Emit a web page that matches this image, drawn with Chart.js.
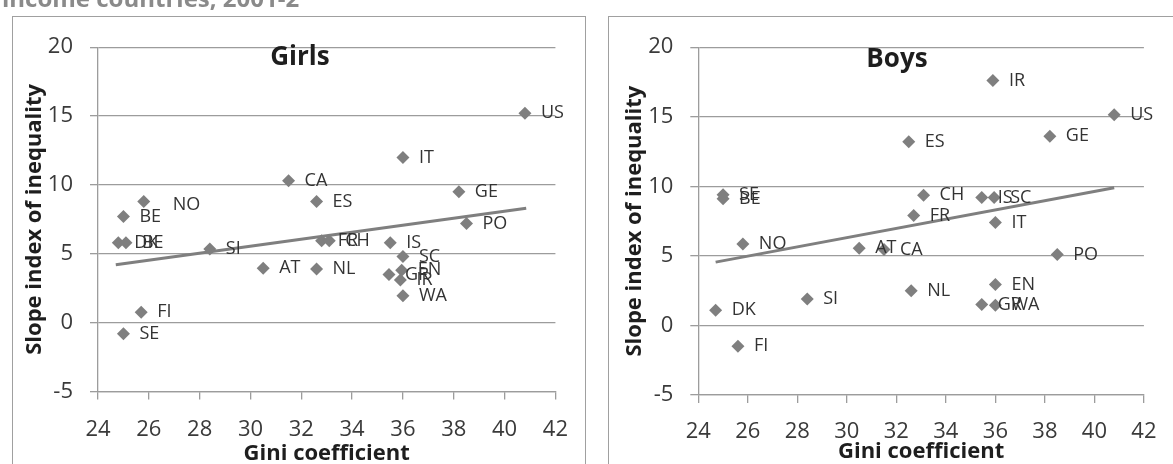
<!DOCTYPE html>
<html>
<head>
<meta charset="utf-8">
<script src="https://cdn.jsdelivr.net/npm/chart.js@4"></script>
<style>
  body { margin: 0; width: 1173px; height: 464px; overflow: hidden; background: #fff; position: relative; }
  #head { position: absolute; left: 0; top: 0; }
  .box { position: absolute; top: 16px; height: 460px; border: 1px solid #a0a0a0; background: #fff; }
  .box canvas { position: absolute; left: 0; top: 0; }
  #boxGirls { left: 12px; width: 572px; }
  #boxBoys { left: 608px; width: 580px; }
</style>
</head>
<body>
<canvas id="head" width="420" height="14"></canvas>
<div class="box" id="boxGirls"><canvas id="girls" width="572" height="450"></canvas></div>
<div class="box" id="boxBoys"><canvas id="boys" width="563" height="450"></canvas></div>
<script>
// Girls: country code, Gini coefficient, slope index of inequality
const girlsCodes = ['US', 'IT', 'CA', 'GE', 'ES', 'NO', 'BE', 'PO', 'FR', 'CH', 'IS', 'DK', 'BE', 'SI', 'SC', 'EN', 'GR', 'IR', 'AT', 'NL', 'WA', 'FI', 'SE'];
const girlsGini = [40.8, 36.0, 31.5, 38.2, 32.6, 25.8, 25.0, 38.5, 32.8, 33.1, 35.5, 24.8, 25.1, 28.4, 36.0, 35.95, 35.45, 35.9, 30.5, 32.6, 36.0, 25.7, 25.0];
const girlsSlope = [15.2, 12.0, 10.3, 9.5, 8.8, 8.8, 7.7, 7.2, 5.95, 5.95, 5.8, 5.8, 5.8, 5.35, 4.8, 3.8, 3.5, 3.1, 3.95, 3.9, 1.95, 0.75, -0.8];

// Boys
const boysCodes = ['IR', 'US', 'GE', 'ES', 'SE', 'BE', 'CH', 'IS', 'SC', 'FR', 'IT', 'NO', 'AT', 'CA', 'PO', 'EN', 'NL', 'GR', 'WA', 'DK', 'SI', 'FI'];
const boysGini = [35.9, 40.8, 38.2, 32.5, 25.0, 25.0, 33.1, 35.45, 35.95, 32.7, 36.0, 25.8, 30.5, 31.5, 38.5, 36.0, 32.6, 35.45, 36.0, 24.7, 28.4, 25.6];
const boysSlope = [17.6, 15.15, 13.6, 13.2, 9.4, 9.1, 9.35, 9.2, 9.2, 7.9, 7.4, 5.85, 5.55, 5.45, 5.1, 2.95, 2.5, 1.5, 1.45, 1.1, 1.9, -1.5];

// linear trend lines (end points)
const girlsTrendX = [24.7, 40.85];
const girlsTrendY = [4.2, 8.3];
const boysTrendX = [24.7, 40.8];
const boysTrendY = [4.55, 9.9];

const giniTicks = [24, 26, 28, 30, 32, 34, 36, 38, 40, 42];
const slopeTicks = [-5, 0, 5, 10, 15, 20];

const GREY = '#7f7f7f';
const GRID = '#9c9c9c';
const FONT = "'Open Sans', sans-serif";

// heading above the charts (only its lower part is on the page)
const hctx = document.getElementById('head').getContext('2d');
hctx.font = 'bold 24px ' + FONT;
hctx.fillStyle = '#8a8a8a';
hctx.textBaseline = 'alphabetic';
hctx.fillText('income countries, 2001-2', 2, 6.5);

// country codes next to each diamond
const pointLabels = {
  id: 'pointLabels',
  afterDatasetsDraw(chart, args, opts) {
    const meta = chart.getDatasetMeta(1);
    const ctx = chart.ctx;
    ctx.save();
    ctx.font = '18px ' + FONT;
    ctx.fillStyle = '#333333';
    ctx.textBaseline = 'middle';
    ctx.textAlign = 'left';
    meta.data.forEach((pt, i) => {
      const code = opts.codes[i];
      const n = (opts.nudge && opts.nudge[code + i]) || [0, 0];
      ctx.fillText(code, pt.x + 16 + n[0], pt.y + n[1]);
    });
    ctx.restore();
  }
};

// panel title drawn inside the plot
const panelTitle = {
  id: 'panelTitle',
  afterDraw(chart, args, opts) {
    const ctx = chart.ctx;
    ctx.save();
    ctx.font = 'bold 26px ' + FONT;
    ctx.fillStyle = '#1e1e1e';
    ctx.textAlign = 'center';
    ctx.textBaseline = 'alphabetic';
    ctx.fillText(opts.text, opts.x, opts.y);
    ctx.restore();
  }
};

function makeChart(id, codes, gini, slope, trendX, trendY, geo) {
  const points = gini.map((g, i) => ({ x: g, y: slope[i] }));
  const trend = trendX.map((x, i) => ({ x: x, y: trendY[i] }));
  return new Chart(document.getElementById(id), {
    type: 'scatter',
    data: {
      datasets: [
        {
          type: 'line',
          data: trend,
          borderColor: GREY,
          borderWidth: 3,
          pointRadius: 0,
          fill: false
        },
        {
          data: points,
          pointStyle: 'rectRot',
          pointRadius: 6.5,
          backgroundColor: GREY,
          borderColor: GREY,
          borderWidth: 0
        }
      ]
    },
    options: {
      responsive: false,
      animation: false,
      events: [],
      layout: { padding: { top: geo.top, right: geo.right, left: 0, bottom: 0 } },
      plugins: {
        legend: { display: false },
        tooltip: { enabled: false },
        pointLabels: { codes: codes, nudge: geo.nudge },
        panelTitle: { text: geo.title, x: geo.titleX, y: geo.titleY }
      },
      scales: {
        x: {
          type: 'linear',
          min: 24,
          max: 42,
          afterBuildTicks: s => { s.ticks = giniTicks.map(v => ({ value: v })); },
          afterFit: s => { s.height = geo.xHeight; },
          ticks: { color: '#3a3a3a', font: { family: FONT, size: 22 }, padding: geo.xPad, maxRotation: 0 },
          grid: { drawOnChartArea: false, drawTicks: true, tickLength: 8, color: GRID, lineWidth: 1.3 },
          border: { color: GRID, width: 1.3 },
          title: { display: true, text: 'Gini coefficient', color: '#1e1e1e', font: { family: FONT, size: 22, weight: 'bold' }, padding: { top: 0, bottom: geo.xTitlePad } }
        },
        y: {
          type: 'linear',
          min: -5,
          max: 20,
          afterBuildTicks: s => { s.ticks = slopeTicks.map(v => ({ value: v })); },
          afterFit: s => { s.width = geo.yWidth; },
          ticks: { color: '#3a3a3a', font: { family: FONT, size: 22 }, padding: 17 },
          grid: { drawTicks: true, tickLength: 8, color: GRID, lineWidth: 1.3 },
          border: { color: GRID, width: 1.3 },
          title: { display: true, text: 'Slope index of inequality', color: '#1e1e1e', font: { family: FONT, size: 22, weight: 'bold' }, padding: { top: geo.yTitlePad, bottom: 0 } }
        }
      }
    },
    plugins: [pointLabels, panelTitle]
  });
}

makeChart('girls', girlsCodes, girlsGini, girlsSlope, girlsTrendX, girlsTrendY, {
  top: 21, right: 27.3, yWidth: 85, xHeight: 75.5, xPad: 17, xTitlePad: 0, yTitlePad: 8.8,
  title: 'Girls', titleX: 287, titleY: 48,
  nudge: { NO5: [13, 3] }
});

makeChart('boys', boysCodes, boysGini, boysSlope, boysTrendX, boysTrendY, {
  top: 22, right: 17, yWidth: 89.3, xHeight: 72, xPad: 15.5, xTitlePad: 1.8, yTitlePad: 12.3,
  title: 'Boys', titleX: 288, titleY: 49.5,
  nudge: {}
});
</script>
</body>
</html>
